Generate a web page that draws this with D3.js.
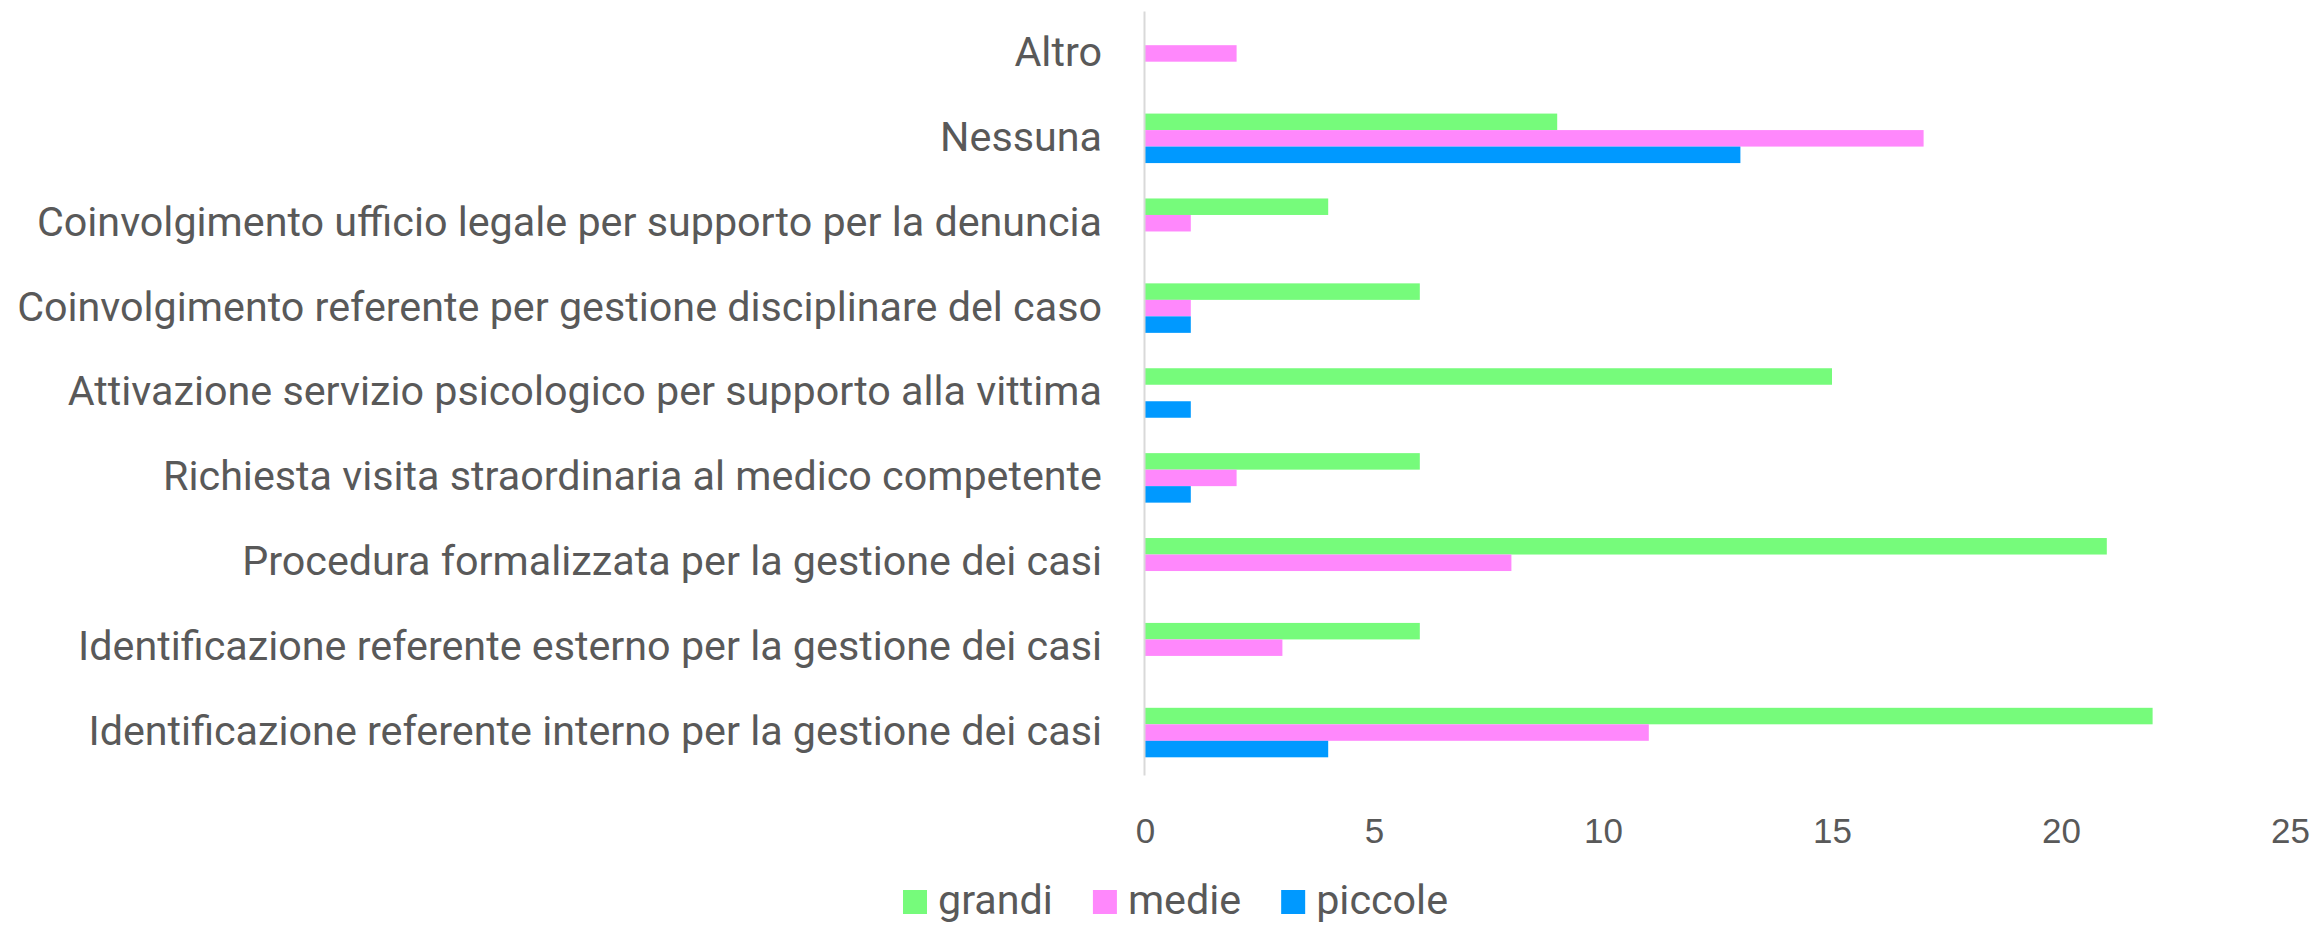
<!DOCTYPE html>
<html>
<head>
<meta charset="utf-8">
<script src="https://cdn.jsdelivr.net/npm/d3@7"></script>
<style>
  body { margin: 0; background: #fff; }
  svg { display: block; }
</style>
</head>
<body>
<svg width="2318" height="926"></svg>
<script>
var categories = [
  'Altro',
  'Nessuna',
  'Coinvolgimento ufficio legale per supporto per la denuncia',
  'Coinvolgimento referente per gestione disciplinare del caso',
  'Attivazione servizio psicologico per supporto alla vittima',
  'Richiesta visita straordinaria al medico competente',
  'Procedura formalizzata per la gestione dei casi',
  'Identificazione referente esterno per la gestione dei casi',
  'Identificazione referente interno per la gestione dei casi'
];

var seriesNames = ['grandi', 'medie', 'piccole'];
var grandi  = [0, 9, 4, 6, 15, 6, 21, 6, 22];
var medie   = [2, 17, 1, 1, 0, 2, 8, 3, 11];
var piccole = [0, 13, 0, 1, 1, 1, 0, 0, 4];
var xTicks = [0, 5, 10, 15, 20, 25];

var colors = ['#76fb7b', '#ff88fc', '#0099ff'];
var seriesValues = [grandi, medie, piccole];

var labelFont = 'Roboto, "Liberation Sans", sans-serif';
var tickFont = '"Liberation Sans", Arial, sans-serif';
var textColor = '#595959';

var svg = d3.select('svg');

// size the label font so the longest label has the width of the original
var probe = svg.append('text')
   .attr('font-family', labelFont)
   .attr('font-size', 100)
   .text(categories[8]);
var labelSize = 100 * 1014 / probe.node().getComputedTextLength();
probe.remove();

var x = d3.scaleLinear().domain([0, 25]).range([1145, 2290]);
var y = d3.scaleBand().domain(categories).range([11, 775]);
var barGroup = 49.5;
var ySub = d3.scaleBand()
   .domain(seriesNames)
   .range([(y.bandwidth() - barGroup) / 2, (y.bandwidth() + barGroup) / 2]);

var rows = categories.map(function (c, i) {
  return {
    cat: c,
    vals: seriesNames.map(function (s, j) {
      return {name: s, value: seriesValues[j][i], color: colors[j]};
    })
  };
});

var groups = svg.selectAll('g.row')
   .data(rows)
   .enter()
   .append('g')
   .attr('class', 'row')
   .attr('transform', function (d) { return 'translate(0,' + y(d.cat) + ')'; });

groups.selectAll('rect')
   .data(function (d) { return d.vals; })
   .enter()
   .append('rect')
   .attr('x', x(0))
   .attr('y', function (d) { return ySub(d.name); })
   .attr('width', function (d) { return x(d.value) - x(0); })
   .attr('height', ySub.bandwidth())
   .attr('fill', function (d) { return d.color; });

// category axis
var yAxis = svg.append('g')
   .attr('transform', 'translate(1144,0)')
   .call(d3.axisLeft(y).tickSize(0).tickSizeOuter(0).tickPadding(42));
yAxis.select('.domain')
   .attr('stroke', '#d9d9d9')
   .attr('stroke-width', 2);
yAxis.selectAll('text')
   .attr('font-family', labelFont)
   .attr('font-size', labelSize)
   .attr('fill', textColor)
   .attr('dy', '0.3em');

// value axis, labels only
var xAxis = svg.append('g')
   .attr('transform', 'translate(0,775)')
   .call(d3.axisBottom(x).tickValues(xTicks).tickSize(0).tickPadding(43));
xAxis.select('.domain').remove();
xAxis.selectAll('text')
   .attr('font-family', tickFont)
   .attr('font-size', 35)
   .attr('fill', textColor);

// legend
var legend = svg.append('g').attr('transform', 'translate(903,890)');
var lx = 0;
seriesNames.forEach(function (s, i) {
  legend.append('rect')
     .attr('x', lx)
     .attr('y', 0)
     .attr('width', 24)
     .attr('height', 24)
     .attr('fill', colors[i]);
  var t = legend.append('text')
     .attr('x', lx + 35)
     .attr('y', 24)
     .attr('font-family', labelFont)
     .attr('font-size', labelSize)
     .attr('fill', textColor)
     .text(s);
  lx += 35 + t.node().getComputedTextLength() + 40;
});
</script>
</body>
</html>
